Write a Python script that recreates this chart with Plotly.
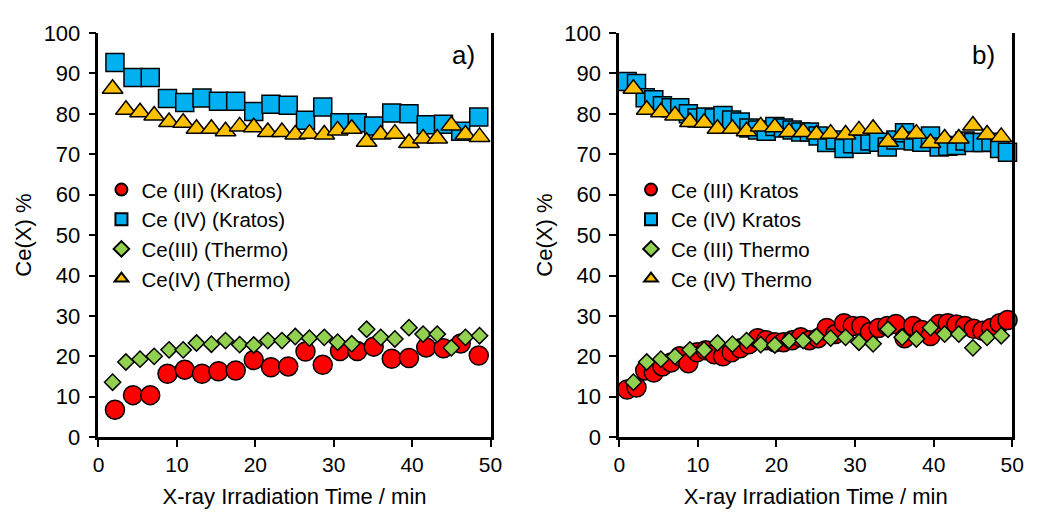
import plotly.graph_objects as go

# ---------------- data ----------------
# Panel a) Kratos
xa_kratos = [2.1, 4.4, 6.6, 8.8, 11.0, 13.2, 15.3, 17.5, 19.8, 22.0, 24.2,
             26.4, 28.6, 30.8, 33.0, 35.1, 37.4, 39.6, 41.8, 44.0, 46.2, 48.5]
a_ce3_kratos = [6.8, 10.4, 10.4, 15.7, 16.7, 15.7, 16.3, 16.5, 19.1, 17.3, 17.5,
                21.2, 17.9, 21.3, 21.3, 22.4, 19.4, 19.6, 22.2, 22.0, 23.2, 20.2]
a_ce4_kratos = [92.7, 89.0, 89.0, 83.8, 82.8, 83.9, 83.1, 83.1, 80.6, 82.4, 82.1,
                78.4, 81.7, 77.8, 77.8, 77.0, 80.2, 80.0, 77.3, 77.4, 75.7, 79.2]

# Thermo (same in both panels)
x_thermo = [1.8, 3.5, 5.3, 7.1, 9.0, 10.8, 12.5, 14.4, 16.2, 18.0, 19.8, 21.6, 23.4,
            25.1, 26.9, 28.8, 30.5, 32.3, 34.2, 36.0, 37.8, 39.6, 41.4, 43.2, 45.0,
            46.8, 48.6]
ce3_thermo = [13.6, 18.6, 19.3, 20.0, 21.6, 21.6, 23.3, 23.0, 23.9, 22.9, 22.8,
              23.9, 23.9, 24.9, 24.5, 24.7, 23.5, 23.1, 26.7, 24.7, 24.3, 27.1,
              25.5, 25.5, 22.1, 24.7, 25.1]
ce4_thermo = [86.2, 81.0, 80.4, 79.6, 78.0, 77.8, 76.3, 76.3, 75.7, 76.9, 76.7,
              75.5, 75.5, 74.9, 75.1, 74.9, 75.9, 76.3, 73.1, 74.9, 75.1, 72.8,
              73.9, 73.9, 77.1, 74.9, 74.3]

# Panel b) Kratos
xb_kratos = [1.0, 2.2, 3.3, 4.4, 5.5, 6.6, 7.7, 8.8, 9.9, 11.0, 12.1, 13.2, 14.3,
             15.4, 16.5, 17.6, 18.7, 19.8, 20.9, 22.0, 23.1, 24.2, 25.3, 26.4,
             27.5, 28.6, 29.7, 30.8, 31.9, 33.0, 34.1, 35.2, 36.3, 37.4, 38.5,
             39.6, 40.7, 41.8, 42.9, 44.0, 45.1, 46.2, 47.3, 48.4, 49.4]
b_ce3_kratos = [11.8, 12.3, 16.5, 16.0, 17.5, 18.5, 20.0, 18.3, 21.0, 21.5, 20.5,
                20.0, 21.0, 22.0, 23.0, 24.5, 24.0, 23.5, 23.5, 24.0, 24.7, 24.0,
                24.5, 27.0, 25.5, 28.2, 27.5, 27.5, 26.0, 27.0, 27.5, 28.0, 24.5,
                27.5, 26.5, 25.0, 28.0, 28.2, 27.9, 27.5, 26.8, 26.3, 27.0, 28.2,
                29.0]
b_ce4_kratos = [88.0, 87.5, 84.0, 83.5, 82.0, 81.5, 81.5, 80.0, 79.0, 79.2, 79.0,
                79.6, 78.5, 78.0, 76.5, 76.0, 75.7, 76.9, 76.5, 76.0, 75.5, 75.5,
                74.5, 72.9, 73.5, 71.4, 72.6, 72.5, 73.3, 73.0, 71.8, 73.5, 75.3,
                73.3, 73.0, 74.5, 71.8, 72.0, 72.2, 73.3, 72.9, 72.9, 73.0, 71.4,
                70.5]

legend_a = ["Ce (III) (Kratos)", "Ce (IV) (Kratos)", "Ce(III) (Thermo)", "Ce(IV) (Thermo)"]
legend_b = ["Ce (III) Kratos", "Ce (IV) Kratos", "Ce (III) Thermo", "Ce (IV) Thermo"]

x_ticks = [0, 10, 20, 30, 40, 50]
y_ticks = [0, 10, 20, 30, 40, 50, 60, 70, 80, 90, 100]

# ---------------- styles ----------------
RED, BLUE, GREEN, ORANGE = "#FF0000", "#00B0F0", "#92D050", "#FFC000"
OUT = dict(color="black", width=1.5)
FONT = "Liberation Sans, Arial, sans-serif"

fig = go.Figure()


def add(x, y, name, symbol, color, size, xa, ya, legend, group):
    fig.add_trace(go.Scatter(
        x=x, y=y, name=name, mode="markers", xaxis=xa, yaxis=ya,
        legend=legend, legendgroup=group, cliponaxis=False,
        marker=dict(symbol=symbol, color=color, size=size, line=OUT)))


specs = [("circle", RED, 19), ("square", BLUE, 18), ("diamond", GREEN, 12.5),
         ("triangle-up", ORANGE, 18)]

data_a = [(xa_kratos, a_ce3_kratos), (xa_kratos, a_ce4_kratos),
          (x_thermo, ce3_thermo), (x_thermo, ce4_thermo)]
data_b = [(xb_kratos, b_ce3_kratos), (xb_kratos, b_ce4_kratos),
          (x_thermo, ce3_thermo), (x_thermo, ce4_thermo)]

for i, ((x, y), (sym, col, sz)) in enumerate(zip(data_a, specs)):
    add(x, y, legend_a[i], sym, col, sz, "x", "y", "legend", f"a{i}")
for i, ((x, y), (sym, col, sz)) in enumerate(zip(data_b, specs)):
    add(x, y, legend_b[i], sym, col, sz, "x2", "y2", "legend2", f"b{i}")

# page body has an 8px margin: layout px = screen px - 8
W, H = 1029, 509
xdom1 = [86 / W, 485 / W]
xdom2 = [616 / W, 1016 / W]
ydom = [(H - 438.7) / H, (H - 13.7) / H]

axis_common = dict(showline=True, linecolor="black", linewidth=2.5, showgrid=False,
                   zeroline=False, ticks="outside", ticklen=7, tickwidth=2,
                   tickcolor="black")

xax = dict(axis_common, range=[0, 50], tickvals=x_ticks,
           tickfont=dict(size=21, color="black", family=FONT),
           title=dict(text="X-ray Irradiation Time / min",
                      font=dict(size=22, color="black", family=FONT), standoff=14))
yax = dict(axis_common, range=[0, 100], tickvals=y_ticks, mirror=True,
           tickfont=dict(size=22, color="black", family=FONT), ticklabelstandoff=4,
           title=dict(text="Ce(X) %", font=dict(size=22, color="black", family=FONT),
                      standoff=6))

legend_common = dict(bgcolor="rgba(0,0,0,0)", borderwidth=0, itemsizing="constant",
                     font=dict(size=20.5, color="black", family=FONT),
                     tracegroupgap=0, traceorder="grouped",
                     xanchor="left", yanchor="top")

fig.update_layout(
    width=W, height=H, margin=dict(l=0, r=0, t=0, b=0),
    paper_bgcolor="white", plot_bgcolor="white", showlegend=True,
    font=dict(family=FONT, color="black"),
    xaxis=dict(xax, domain=xdom1, anchor="y"),
    yaxis=dict(yax, domain=ydom, anchor="x"),
    xaxis2=dict(xax, domain=xdom2, anchor="y2"),
    yaxis2=dict(yax, domain=ydom, anchor="x2"),
    legend=dict(legend_common, x=89 / W, y=1 - 157.5 / H),
    legend2=dict(legend_common, x=628 / W, y=1 - 157.5 / H),
    annotations=[
        dict(text="a)", x=457 / W, y=1 - 37 / H, xref="paper", yref="paper",
             xanchor="center", yanchor="middle", showarrow=False,
             font=dict(size=26, color="black", family=FONT)),
        dict(text="b)", x=987 / W, y=1 - 37 / H, xref="paper", yref="paper",
             xanchor="center", yanchor="middle", showarrow=False,
             font=dict(size=26, color="black", family=FONT)),
    ],
)

fig.write_html("out.html")
